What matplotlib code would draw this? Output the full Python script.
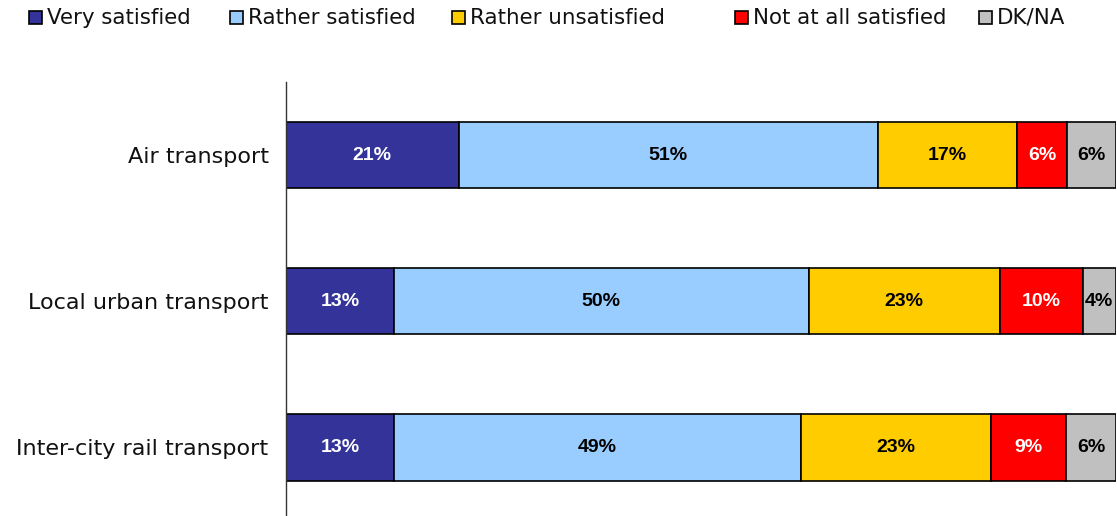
import matplotlib
matplotlib.use("Agg")
import matplotlib.pyplot as plt
from matplotlib.patches import Rectangle
import numpy as np

categories = ["Air transport", "Local urban transport", "Inter-city rail transport"]
series_names = ["Very satisfied", "Rather satisfied", "Rather unsatisfied",
                "Not at all satisfied", "DK/NA"]
very_satisfied = [21, 13, 13]
rather_satisfied = [51, 50, 49]
rather_unsatisfied = [17, 23, 23]
not_at_all = [6, 10, 9]
dk_na = [6, 4, 6]

colors = ["#333399", "#99CCFF", "#FFCC00", "#FF0000", "#C0C0C0"]
label_colors = ["white", "black", "black", "white", "black"]

values = np.array([very_satisfied, rather_satisfied, rather_unsatisfied,
                   not_at_all, dk_na], dtype=float)
# 100% stacked: each row scaled to its own total
shares = values / values.sum(axis=0) * 100

fig = plt.figure(figsize=(11.17, 5.16), dpi=100)
ax = fig.add_axes([0.256, 0.0, 0.743, 0.841])

ypos = np.arange(len(categories))[::-1]
left = np.zeros(len(categories))
for i, name in enumerate(series_names):
    ax.barh(ypos, shares[i], left=left, height=0.455, color=colors[i],
            edgecolor="black", linewidth=1.2, label=name)
    for j in range(len(categories)):
        ax.text(left[j] + shares[i][j] / 2, ypos[j], f"{int(values[i][j])}%",
                ha="center", va="center", color=label_colors[i],
                fontsize=14, fontweight="bold", family="Liberation Sans")
    left += shares[i]

ax.set_xlim(0, 100)
ax.set_ylim(-0.47, 2.5)
ax.set_yticks(ypos)
ax.set_yticklabels(categories, fontsize=16, family="DejaVu Sans", color="#111111")
ax.tick_params(axis="y", length=0, pad=12.5)
ax.set_xticks([])
for s in ["top", "right", "bottom"]:
    ax.spines[s].set_visible(False)
ax.spines["left"].set_color("#333333")
ax.spines["left"].set_linewidth(1.0)

# Legend row along the top
legend_x = [29, 230, 452, 735, 979]
for x, name, c in zip(legend_x, series_names, colors):
    sq = 13
    fig.patches.append(Rectangle((x / 1117, 1 - 24 / 516), sq / 1117, sq / 516,
                                 transform=fig.transFigure, facecolor=c,
                                 edgecolor="black", linewidth=1.2))
    fig.text((x + 18) / 1117, 1 - 17.5 / 516, name, fontsize=15.4,
             family="DejaVu Sans", va="center", ha="left", color="#111111")

fig.savefig("out.png", dpi=100)
